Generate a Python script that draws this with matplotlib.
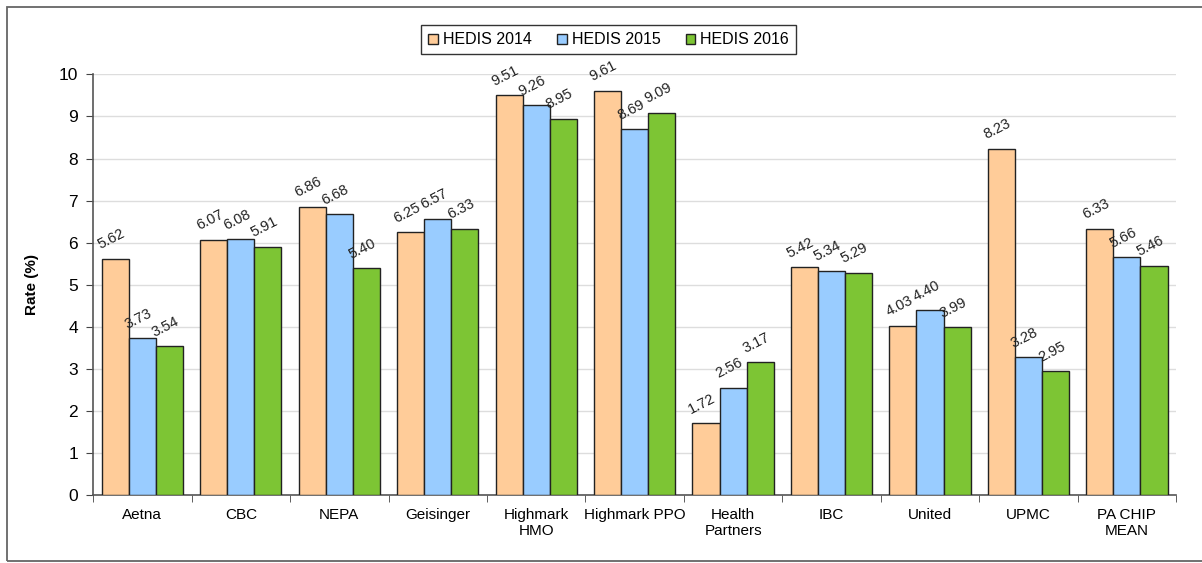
import numpy as np
import matplotlib.pyplot as plt
from matplotlib.patches import Rectangle

plans = ["Aetna", "CBC", "NEPA", "Geisinger", "Highmark\nHMO", "Highmark PPO",
         "Health\nPartners", "IBC", "United", "UPMC", "PA CHIP\nMEAN"]
hedis_2014 = [5.62, 6.07, 6.86, 6.25, 9.51, 9.61, 1.72, 5.42, 4.03, 8.23, 6.33]
hedis_2015 = [3.73, 6.08, 6.68, 6.57, 9.26, 8.69, 2.56, 5.34, 4.40, 3.28, 5.66]
hedis_2016 = [3.54, 5.91, 5.40, 6.33, 8.95, 9.09, 3.17, 5.29, 3.99, 2.95, 5.46]
series_names = ["HEDIS 2014", "HEDIS 2015", "HEDIS 2016"]
colors = ["#FFCC99", "#99CCFF", "#7DC534"]

plt.rcParams['font.family'] = ['Liberation Sans', 'DejaVu Sans']

fig = plt.figure(figsize=(12.02, 5.63), dpi=100)
# outer frame (right edge runs off the picture)
fig.patches.append(Rectangle((0.006, 0.003), 1.02, 0.985, transform=fig.transFigure,
                             fill=False, edgecolor='#666666', linewidth=1.3))

ax = fig.add_axes([0.0775, 0.12, 0.901, 0.748])
x = np.arange(len(plans))
w = 0.275
for i, (vals, name, c) in enumerate(zip([hedis_2014, hedis_2015, hedis_2016], series_names, colors)):
    pos = x + (i - 1) * w
    ax.bar(pos, vals, width=w, color=c, edgecolor='#222222', linewidth=1, label=name, zorder=3)
    for px, v in zip(pos, vals):
        ax.text(px - 0.04, v + 0.16, f"{v:.2f}", rotation=27, ha='center', va='bottom',
                fontsize=10.5, color='#222222', zorder=4)

ax.set_xlim(-0.5, len(plans) - 0.5)
ax.set_ylim(0, 10)
ax.set_yticks(range(0, 11))
ax.set_xticks(x)
ax.set_xticklabels(plans, fontsize=11)
ax.set_xticks(np.arange(-0.5, len(plans)), minor=True)
ax.tick_params(axis='x', which='major', length=0, pad=9)
ax.tick_params(axis='x', which='minor', length=5, direction='out', color='#444444')
ax.tick_params(axis='y', labelsize=12.5, length=5, color='#444444', pad=6)
ax.grid(axis='y', color='#DDDDDD', linewidth=1, zorder=0)
for s in ['top', 'right']:
    ax.spines[s].set_visible(False)
for s in ['left', 'bottom']:
    ax.spines[s].set_color('#555555')
    ax.spines[s].set_linewidth(1.2)
ax.set_ylabel("Rate (%)", fontsize=11, fontweight='bold', labelpad=14)

leg = ax.legend(loc='upper center', bbox_to_anchor=(0.476, 1.136), ncol=3, fontsize=11.5,
                frameon=True, fancybox=False, edgecolor='black', handlelength=0.6,
                handleheight=0.6, handletextpad=0.3, columnspacing=1.6, borderpad=0.45)
leg.get_frame().set_linewidth(1)

fig.savefig("out.png", dpi=100)
